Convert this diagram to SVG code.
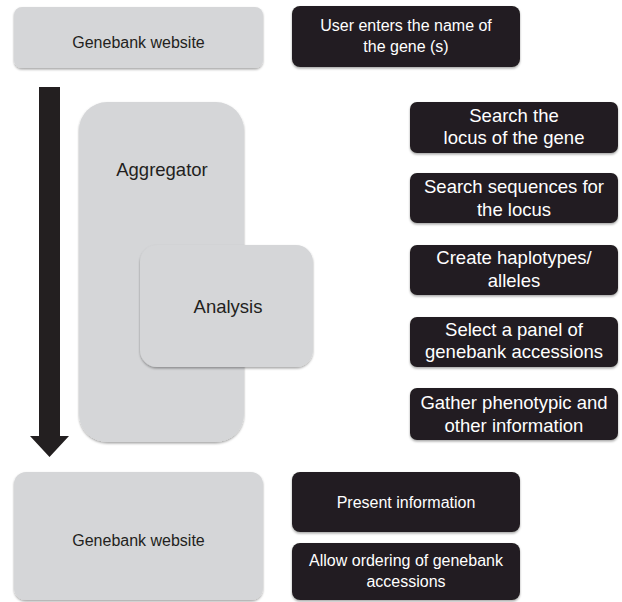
<svg xmlns="http://www.w3.org/2000/svg" width="622" height="602" viewBox="0 0 622 602">
<style>
.g{fill:#d5d6d8}
.k{fill:#231f20}
.t{font-family:"Liberation Sans",Arial,sans-serif;font-size:16px;text-anchor:middle}
.m{font-size:18.5px}
.td{fill:#231f20}
.tw{fill:#ffffff}
</style>
<defs>
<filter id="sh" x="-10%" y="-10%" width="120%" height="130%">
<feDropShadow dx="0" dy="1.5" stdDeviation="1.2" flood-color="#000" flood-opacity="0.35"/>
</filter>
</defs>
<g id="connectors">
<polygon class="k" points="39,87 60,87 60,436 69,436 49.5,457 30,436 39,436"/>
</g>
<g id="genebank-top">
<rect class="g" x="14" y="7" width="249" height="61" rx="8" filter="url(#sh)"/>
<text class="t td" x="138.5" y="48">Genebank website</text>
</g>
<g id="user-enters">
<rect class="k" x="292" y="6" width="228" height="61" rx="8" filter="url(#sh)"/>
<text class="t tw" x="406" y="31">User enters the name of</text>
<text class="t tw" x="406" y="52">the gene (s)</text>
</g>
<g id="aggregator">
<rect class="g" x="79" y="102" width="165" height="340" rx="28" filter="url(#sh)"/>
<text class="t m td" x="162" y="176">Aggregator</text>
</g>
<g id="analysis">
<rect class="g" x="140" y="245" width="173" height="122" rx="17" filter="url(#sh)"/>
<text class="t m td" x="228" y="313">Analysis</text>
</g>
<g id="search-locus">
<rect class="k" x="410" y="102" width="208" height="51" rx="7" filter="url(#sh)"/>
<text class="t m tw" x="514" y="122">Search the</text>
<text class="t m tw" x="514" y="144">locus of the gene</text>
</g>
<g id="search-sequences">
<rect class="k" x="410" y="173" width="208" height="50" rx="7" filter="url(#sh)"/>
<text class="t m tw" x="514" y="193">Search sequences for</text>
<text class="t m tw" x="514" y="216">the locus</text>
</g>
<g id="create-haplotypes">
<rect class="k" x="410" y="245" width="208" height="50" rx="7" filter="url(#sh)"/>
<text class="t m tw" x="514" y="264">Create haplotypes/</text>
<text class="t m tw" x="514" y="287">alleles</text>
</g>
<g id="select-panel">
<rect class="k" x="410" y="317" width="208" height="50" rx="7" filter="url(#sh)"/>
<text class="t m tw" x="514" y="336">Select a panel of</text>
<text class="t m tw" x="514" y="358">genebank accessions</text>
</g>
<g id="gather-phenotypic">
<rect class="k" x="410" y="388" width="208" height="52" rx="7" filter="url(#sh)"/>
<text class="t m tw" x="514" y="409">Gather phenotypic and</text>
<text class="t m tw" x="514" y="432">other information</text>
</g>
<g id="genebank-bottom">
<rect class="g" x="14" y="472" width="249" height="128" rx="12" filter="url(#sh)"/>
<text class="t td" x="138.5" y="546">Genebank website</text>
</g>
<g id="present-information">
<rect class="k" x="292" y="472" width="228" height="60" rx="8" filter="url(#sh)"/>
<text class="t tw" x="406" y="508">Present information</text>
</g>
<g id="allow-ordering">
<rect class="k" x="292" y="543" width="228" height="57" rx="8" filter="url(#sh)"/>
<text class="t tw" x="406" y="566">Allow ordering of genebank</text>
<text class="t tw" x="406" y="587">accessions</text>
</g>
</svg>
